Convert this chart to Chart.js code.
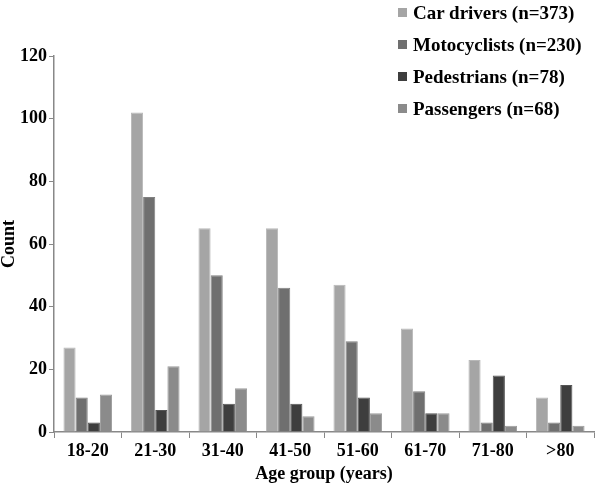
<!DOCTYPE html>
<html>
<head>
<meta charset="utf-8">
<script src="https://cdn.jsdelivr.net/npm/chart.js@4/dist/chart.umd.min.js"></script>
<style>
  html, body { margin: 0; padding: 0; background: #fff; }
  #wrap { position: relative; width: 602px; height: 490px; }
  canvas { position: absolute; left: 0; top: 0; }
  #legend { position: absolute; left: 398px; top: 0; font-family: "Liberation Serif", "Times New Roman", serif; font-weight: bold; font-size: 19px; color: #000; }
  .item { position: absolute; white-space: nowrap; height: 22px; line-height: 22px; }
  .sw { display: inline-block; width: 9px; height: 9px; margin-right: 6px; vertical-align: 2px; }
</style>
</head>
<body>
<div id="wrap">
  <canvas id="c" width="602" height="490"></canvas>
  <div id="legend"></div>
</div>
<script>
const categories = ["18-20", "21-30", "31-40", "41-50", "51-60", "61-70", "71-80", ">80"];
const seriesNames = ["Car drivers (n=373)", "Motocyclists (n=230)", "Pedestrians (n=78)", "Passengers (n=68)"];
const carDrivers = [27, 102, 65, 65, 47, 33, 23, 11];
const motocyclists = [11, 75, 50, 46, 29, 13, 3, 3];
const pedestrians = [3, 7, 9, 9, 11, 6, 18, 15];
const passengers = [12, 21, 14, 5, 6, 6, 2, 2];
const yTicks = [0, 20, 40, 60, 80, 100, 120];

const colors = ["#a5a5a5", "#6f6f6f", "#3e3e3e", "#8b8b8b"];
const borders = ["#b8b8b8", "#808080", "#555555", "#9c9c9c"];
const seriesData = [carDrivers, motocyclists, pedestrians, passengers];

const font = { family: "'Liberation Serif', 'Times New Roman', serif", weight: "bold", size: 18, lineHeight: 1 };

new Chart(document.getElementById("c"), {
  type: "bar",
  data: {
    labels: categories,
    datasets: seriesData.map((d, i) => ({
      label: seriesNames[i],
      data: d,
      backgroundColor: colors[i],
      borderColor: borders[i],
      borderWidth: 1,
      categoryPercentage: 0.72,
      barPercentage: 1.0
    }))
  },
  options: {
    responsive: false,
    animation: false,
    layout: { padding: { top: 56, right: 8, left: 0, bottom: 7 } },
    plugins: { legend: { display: false }, tooltip: { enabled: false } },
    scales: {
      x: {
        offset: true,
        grid: { display: true, drawOnChartArea: false, offset: true, color: "#888", tickLength: 6 },
        border: { color: "#888", width: 1.5 },
        ticks: { font: font, color: "#000", padding: 4 },
        title: { display: true, text: "Age group (years)", font: font, color: "#000", padding: { top: 1, bottom: 0 } }
      },
      y: {
        min: 0, max: 120,
        afterBuildTicks: (axis) => { axis.ticks = yTicks.map(v => ({ value: v })); },
        grid: { display: true, drawOnChartArea: false, color: "#888", tickLength: 5 },
        border: { color: "#888", width: 1.5 },
        ticks: { font: font, color: "#000", padding: 2 },
        title: { display: true, text: "Count", font: font, color: "#000", padding: { top: 0, bottom: 0 } }
      }
    }
  }
});

const lg = document.getElementById("legend");
seriesNames.forEach((n, i) => {
  const d = document.createElement("div");
  d.className = "item";
  d.style.top = (2 + i * 32) + "px";
  d.innerHTML = '<span class="sw" style="background:' + colors[i] + '"></span>' + n;
  lg.appendChild(d);
});
</script>
</body>
</html>
